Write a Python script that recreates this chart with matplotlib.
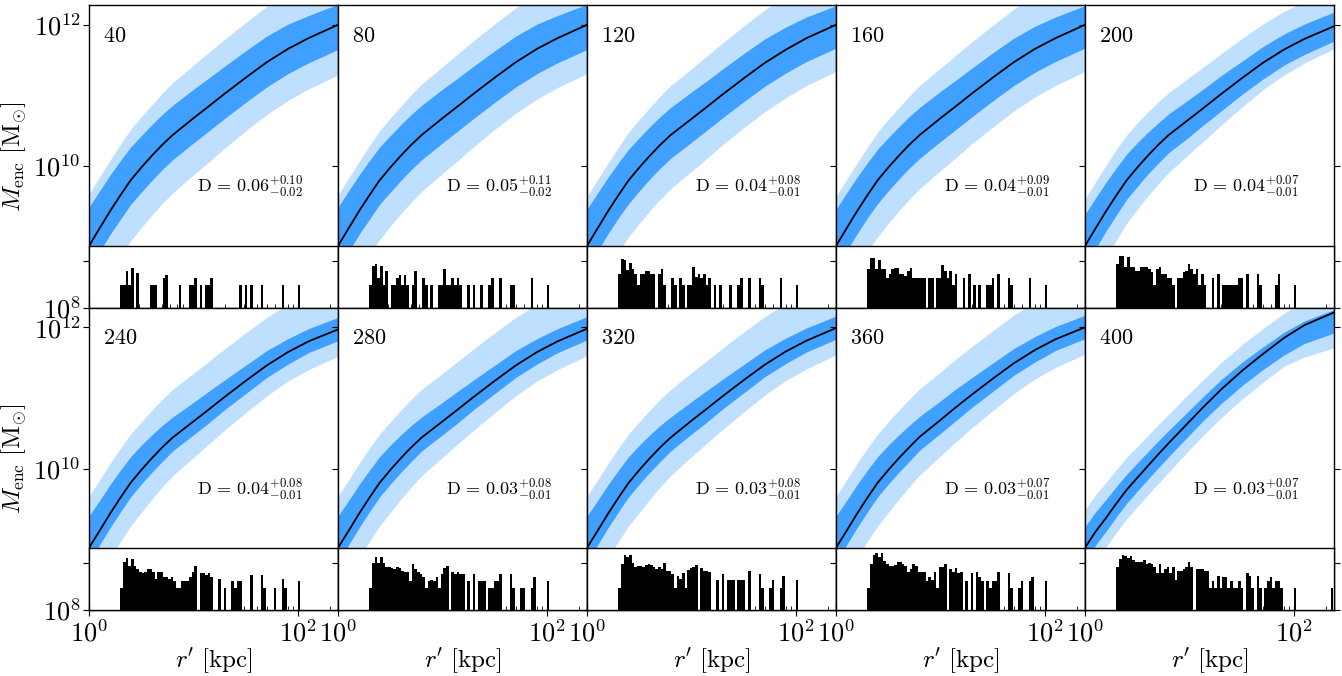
import numpy as np
import matplotlib.pyplot as plt
from matplotlib.ticker import NullLocator

plt.rcParams['mathtext.fontset'] = 'cm'
plt.rcParams['font.family'] = ['DejaVu Serif']

# snapshot labels and the quoted D statistic for each panel
snapshots = [40, 80, 120, 160, 200, 240, 280, 320, 360, 400]
d_med = [0.06, 0.05, 0.04, 0.04, 0.04, 0.04, 0.03, 0.03, 0.03, 0.03]
d_plus = [0.10, 0.11, 0.08, 0.09, 0.07, 0.08, 0.08, 0.08, 0.07, 0.07]
d_minus = [0.02, 0.02, 0.01, 0.01, 0.01, 0.01, 0.01, 0.01, 0.01, 0.01]

# radii (kpc) at which the enclosed-mass profiles are sampled
r_kpc = [1, 1.25, 1.6, 2, 2.5, 3.2, 4, 5, 6.3, 10, 13.5, 20, 32, 50, 80, 125, 240]

# median log10 M_enc per snapshot
logm_med = [
    [8.87, 9.11, 9.37, 9.59, 9.80, 9.99, 10.15, 10.30, 10.44, 10.68, 10.83, 11.03, 11.26, 11.47, 11.66, 11.81, 12.00],
    [8.87, 9.11, 9.37, 9.59, 9.80, 9.99, 10.15, 10.30, 10.44, 10.68, 10.83, 11.03, 11.26, 11.47, 11.66, 11.81, 12.00],
    [8.87, 9.11, 9.37, 9.59, 9.80, 9.99, 10.15, 10.30, 10.44, 10.67, 10.82, 11.02, 11.25, 11.46, 11.65, 11.81, 12.00],
    [8.87, 9.11, 9.37, 9.59, 9.80, 9.99, 10.15, 10.30, 10.44, 10.68, 10.83, 11.03, 11.26, 11.47, 11.66, 11.81, 12.00],
    [8.87, 9.11, 9.37, 9.59, 9.80, 9.99, 10.15, 10.30, 10.44, 10.67, 10.82, 11.02, 11.25, 11.46, 11.65, 11.80, 11.98],
    [8.88, 9.11, 9.37, 9.59, 9.80, 9.99, 10.15, 10.30, 10.44, 10.67, 10.82, 11.02, 11.25, 11.46, 11.65, 11.80, 11.97],
    [8.88, 9.11, 9.37, 9.59, 9.80, 9.99, 10.15, 10.30, 10.44, 10.67, 10.82, 11.02, 11.25, 11.46, 11.65, 11.80, 11.98],
    [8.88, 9.11, 9.37, 9.59, 9.80, 9.99, 10.15, 10.30, 10.44, 10.68, 10.83, 11.03, 11.26, 11.47, 11.66, 11.81, 11.99],
    [8.88, 9.11, 9.37, 9.59, 9.80, 9.99, 10.15, 10.30, 10.45, 10.69, 10.85, 11.05, 11.28, 11.49, 11.68, 11.83, 12.00],
    [8.88, 9.10, 9.31, 9.51, 9.70, 9.88, 10.04, 10.20, 10.36, 10.67, 10.87, 11.12, 11.39, 11.62, 11.85, 12.03, 12.21],
]

# widths (dex) of the 68% and 95% envelopes above / below the median
dex_hi1 = [
    [0.55, 0.53, 0.51, 0.49, 0.47, 0.45, 0.44, 0.43, 0.42, 0.41, 0.40, 0.39, 0.38, 0.37, 0.35, 0.32, 0.29],
    [0.55, 0.53, 0.51, 0.49, 0.47, 0.45, 0.44, 0.43, 0.42, 0.41, 0.40, 0.39, 0.38, 0.37, 0.35, 0.32, 0.29],
    [0.52, 0.50, 0.48, 0.46, 0.44, 0.42, 0.41, 0.40, 0.39, 0.38, 0.37, 0.36, 0.35, 0.34, 0.32, 0.30, 0.27],
    [0.52, 0.50, 0.48, 0.46, 0.44, 0.42, 0.41, 0.40, 0.39, 0.38, 0.37, 0.36, 0.35, 0.34, 0.32, 0.30, 0.27],
    [0.45, 0.43, 0.41, 0.39, 0.37, 0.35, 0.33, 0.31, 0.30, 0.28, 0.27, 0.26, 0.24, 0.23, 0.22, 0.21, 0.20],
    [0.45, 0.43, 0.41, 0.39, 0.37, 0.35, 0.33, 0.31, 0.29, 0.27, 0.26, 0.24, 0.22, 0.21, 0.19, 0.18, 0.17],
    [0.45, 0.43, 0.41, 0.39, 0.37, 0.35, 0.33, 0.31, 0.29, 0.27, 0.26, 0.24, 0.22, 0.21, 0.19, 0.18, 0.17],
    [0.45, 0.43, 0.41, 0.39, 0.37, 0.35, 0.33, 0.31, 0.29, 0.27, 0.26, 0.24, 0.22, 0.21, 0.19, 0.18, 0.17],
    [0.45, 0.43, 0.41, 0.39, 0.37, 0.35, 0.33, 0.31, 0.29, 0.27, 0.26, 0.24, 0.22, 0.21, 0.19, 0.18, 0.17],
    [0.30, 0.28, 0.26, 0.24, 0.22, 0.21, 0.20, 0.19, 0.18, 0.16, 0.15, 0.14, 0.12, 0.10, 0.08, 0.06, 0.04],
]
dex_lo1 = [
    [0.33, 0.33, 0.33, 0.34, 0.34, 0.35, 0.35, 0.35, 0.35, 0.35, 0.35, 0.35, 0.35, 0.35, 0.35, 0.35, 0.35],
    [0.33, 0.33, 0.33, 0.34, 0.34, 0.35, 0.35, 0.35, 0.35, 0.35, 0.35, 0.35, 0.35, 0.35, 0.35, 0.35, 0.35],
    [0.32, 0.32, 0.32, 0.32, 0.33, 0.33, 0.33, 0.33, 0.33, 0.33, 0.33, 0.33, 0.33, 0.33, 0.33, 0.33, 0.33],
    [0.32, 0.32, 0.32, 0.32, 0.33, 0.33, 0.33, 0.33, 0.33, 0.33, 0.33, 0.33, 0.33, 0.33, 0.33, 0.33, 0.33],
    [0.29, 0.29, 0.28, 0.28, 0.27, 0.27, 0.26, 0.26, 0.25, 0.25, 0.24, 0.24, 0.23, 0.23, 0.22, 0.22, 0.21],
    [0.20, 0.20, 0.20, 0.20, 0.20, 0.20, 0.20, 0.20, 0.19, 0.19, 0.19, 0.18, 0.18, 0.17, 0.17, 0.16, 0.16],
    [0.20, 0.20, 0.20, 0.20, 0.20, 0.20, 0.20, 0.20, 0.19, 0.19, 0.19, 0.18, 0.18, 0.17, 0.17, 0.16, 0.16],
    [0.20, 0.20, 0.20, 0.20, 0.20, 0.20, 0.20, 0.20, 0.19, 0.19, 0.19, 0.18, 0.18, 0.17, 0.17, 0.16, 0.16],
    [0.20, 0.20, 0.20, 0.20, 0.20, 0.20, 0.20, 0.20, 0.19, 0.19, 0.19, 0.18, 0.18, 0.17, 0.17, 0.16, 0.16],
    [0.19, 0.19, 0.19, 0.19, 0.19, 0.19, 0.19, 0.19, 0.19, 0.19, 0.19, 0.20, 0.21, 0.22, 0.24, 0.26, 0.29],
]
dex_hi2 = [
    [0.74, 0.73, 0.72, 0.72, 0.72, 0.72, 0.72, 0.73, 0.74, 0.75, 0.76, 0.77, 0.78, 0.79, 0.80, 0.80, 0.80],
    [0.72, 0.71, 0.70, 0.70, 0.70, 0.70, 0.70, 0.71, 0.72, 0.73, 0.74, 0.75, 0.76, 0.77, 0.78, 0.78, 0.78],
    [0.70, 0.69, 0.68, 0.68, 0.68, 0.68, 0.68, 0.69, 0.70, 0.71, 0.72, 0.73, 0.74, 0.75, 0.76, 0.76, 0.76],
    [0.70, 0.69, 0.68, 0.68, 0.68, 0.68, 0.68, 0.69, 0.70, 0.71, 0.72, 0.73, 0.74, 0.75, 0.76, 0.76, 0.76],
    [0.66, 0.66, 0.65, 0.65, 0.64, 0.63, 0.62, 0.61, 0.60, 0.59, 0.58, 0.57, 0.56, 0.55, 0.54, 0.53, 0.50],
    [0.73, 0.72, 0.71, 0.70, 0.69, 0.68, 0.68, 0.68, 0.68, 0.68, 0.68, 0.68, 0.68, 0.68, 0.68, 0.68, 0.68],
    [0.73, 0.72, 0.71, 0.70, 0.69, 0.68, 0.68, 0.68, 0.68, 0.68, 0.68, 0.68, 0.68, 0.68, 0.68, 0.68, 0.68],
    [0.73, 0.72, 0.71, 0.70, 0.69, 0.68, 0.68, 0.68, 0.68, 0.68, 0.68, 0.68, 0.68, 0.68, 0.68, 0.68, 0.68],
    [0.73, 0.72, 0.71, 0.70, 0.69, 0.68, 0.68, 0.68, 0.68, 0.68, 0.68, 0.68, 0.68, 0.68, 0.68, 0.68, 0.68],
    [0.54, 0.52, 0.50, 0.48, 0.46, 0.44, 0.43, 0.42, 0.41, 0.40, 0.39, 0.38, 0.37, 0.36, 0.35, 0.33, 0.30],
]
dex_lo2 = [
    [0.86, 0.86, 0.86, 0.86, 0.86, 0.85, 0.84, 0.83, 0.82, 0.80, 0.79, 0.77, 0.75, 0.74, 0.73, 0.72, 0.71],
    [0.84, 0.84, 0.84, 0.84, 0.84, 0.83, 0.82, 0.81, 0.80, 0.78, 0.77, 0.75, 0.73, 0.72, 0.71, 0.70, 0.69],
    [0.80, 0.80, 0.80, 0.80, 0.80, 0.79, 0.78, 0.77, 0.76, 0.74, 0.73, 0.71, 0.70, 0.69, 0.68, 0.67, 0.66],
    [0.80, 0.80, 0.80, 0.80, 0.80, 0.79, 0.78, 0.77, 0.76, 0.74, 0.73, 0.71, 0.70, 0.69, 0.68, 0.67, 0.66],
    [0.64, 0.64, 0.64, 0.63, 0.61, 0.59, 0.57, 0.55, 0.53, 0.49, 0.47, 0.44, 0.41, 0.38, 0.36, 0.34, 0.32],
    [0.62, 0.62, 0.62, 0.62, 0.61, 0.60, 0.58, 0.56, 0.54, 0.51, 0.49, 0.47, 0.45, 0.43, 0.41, 0.40, 0.38],
    [0.62, 0.62, 0.62, 0.62, 0.61, 0.60, 0.58, 0.56, 0.54, 0.51, 0.49, 0.47, 0.45, 0.43, 0.41, 0.40, 0.38],
    [0.62, 0.62, 0.62, 0.62, 0.61, 0.60, 0.58, 0.56, 0.54, 0.51, 0.49, 0.47, 0.45, 0.43, 0.41, 0.40, 0.38],
    [0.62, 0.62, 0.62, 0.62, 0.61, 0.60, 0.58, 0.56, 0.54, 0.51, 0.49, 0.47, 0.45, 0.43, 0.41, 0.40, 0.38],
    [0.41, 0.41, 0.41, 0.41, 0.41, 0.41, 0.41, 0.41, 0.41, 0.40, 0.40, 0.40, 0.40, 0.40, 0.40, 0.45, 0.50],
]

# tracer counts per log-spaced radial bin (83 bins from 2 to 250 kpc)
hist_counts = [
    [3, 3, 6, 3, 7, 0, 5.5, 0, 0, 0, 0, 3, 3, 3, 0, 0, 4.3, 5, 0, 0,
     0, 0, 3, 0, 0, 0, 3, 3, 4.3, 0, 3, 0, 3, 3, 4.3, 0, 0, 0, 0, 0,
     0, 0, 0, 0, 0, 3, 0, 3, 0, 3, 0, 0, 0, 3, 0, 0, 0, 0, 0, 0,
     0, 3, 0, 0, 0, 0, 0, 3, 0, 0, 0, 0, 0, 0, 0, 0, 0, 0, 0, 0,
     0, 0, 0],
    [3, 7.7, 8.5, 4.3, 7.7, 3, 6, 0, 3, 3, 4.3, 5, 3, 5, 3, 0, 3, 6, 0, 0,
     4.3, 3, 0, 3, 0, 0, 3, 3, 6.6, 3, 3, 4.3, 3, 4.3, 3, 0, 0, 3, 0, 3,
     0, 0, 3, 0, 0, 3, 4.3, 0, 0, 4.3, 0, 0, 0, 3, 3, 0, 0, 0, 0, 0,
     0, 4.3, 0, 0, 0, 0, 0, 3, 0, 0, 0, 0, 0, 0, 0, 0, 0, 0, 0, 0,
     0, 0, 0],
    [5.1, 10.7, 10.2, 6.2, 8.7, 6.6, 5.1, 3, 5.1, 5.1, 5.9, 5.9, 5.1, 5.1, 0, 5.1, 6.6, 3, 0, 0,
     4.2, 3, 0, 4.2, 3, 0, 3, 3, 7.4, 4.4, 5.1, 4.2, 5.1, 3, 4.2, 0, 3, 0, 3, 0,
     0, 0, 3, 0, 0, 3, 4.2, 0, 0, 4.2, 0, 0, 0, 4.2, 3, 0, 0, 0, 0, 0,
     0, 4.2, 0, 0, 0, 0, 0, 3, 0, 0, 0, 0, 0, 0, 0, 0, 0, 0, 0, 0,
     0, 0, 0],
    [6.6, 11.2, 11.2, 6.6, 10.2, 6.6, 6.6, 4.2, 5.3, 6.6, 7.1, 7.1, 5.1, 5.1, 4.6, 5.9, 7.1, 4.2, 4.2, 4.2,
     4.2, 4.2, 0, 4.2, 4.2, 0, 4.2, 4.2, 8.1, 6.0, 4.2, 6.0, 3, 5.1, 0, 0, 4.2, 0, 5.1, 0,
     3, 0, 3, 0, 0, 3, 3, 4.2, 0, 5.1, 0, 0, 0, 4.2, 3, 0, 0, 0, 0, 0,
     0, 4.2, 0, 0, 0, 0, 0, 3, 0, 0, 0, 0, 0, 0, 0, 0, 0, 0, 0, 0,
     0, 0, 0],
    [8.5, 12.6, 12.6, 7.4, 11.9, 7.4, 7.4, 6.1, 6.1, 7.4, 7.4, 7.4, 6.6, 5.6, 3, 6.6, 7.4, 5.1, 5.1, 4.2,
     4.2, 3, 0, 4.2, 4.2, 5.6, 6.1, 8.5, 6.6, 5.1, 6.6, 3, 5.1, 3, 0, 0, 4.2, 0, 5.1, 0,
     3, 3, 3, 3, 3, 3, 4.2, 4.2, 0, 5.1, 0, 0, 0, 5.1, 3, 0, 0, 0, 0, 0,
     3, 5.1, 0, 0, 0, 0, 0, 3, 0, 0, 0, 0, 0, 0, 0, 0, 0, 0, 0, 0,
     0, 0, 0],
    [3, 10.4, 12.7, 8.8, 12, 8.5, 7.4, 6.6, 6.1, 6.6, 7.4, 7.4, 6.6, 4.6, 6.6, 6.6, 5.1, 5.1, 4.6, 5.1,
     4.2, 3, 3, 4.2, 4.2, 4.2, 5.1, 6.6, 8.5, 0, 6.1, 6.1, 5.6, 6.1, 5.1, 0, 0, 4.6, 0, 3,
     0, 0, 4.2, 3, 4.2, 4.2, 0, 0, 0, 5.6, 0, 0, 0, 5.6, 3, 0, 0, 0, 3, 0,
     0, 4.6, 3, 0, 0, 0, 0, 4.2, 0, 0, 0, 0, 0, 0, 0, 0, 0, 0, 0, 0,
     0, 0, 0],
    [3, 10, 13.5, 10, 13.5, 10, 8.3, 8.3, 8, 7.4, 8.3, 8, 6.9, 6.6, 6.6, 4.2, 9.7, 7.4, 6.6, 6,
     5.1, 3, 4.2, 4.4, 4.2, 5.1, 3, 6, 8, 8.7, 0, 6.6, 6, 6.6, 6, 6, 0, 4.2, 0, 6,
     0, 4.2, 4.2, 4.2, 0, 3, 3, 4.2, 4.2, 6, 0, 0, 0, 6, 3, 0, 0, 3, 3, 0,
     0, 3, 5.1, 0, 0, 0, 0, 4.2, 0, 0, 0, 0, 0, 0, 0, 0, 0, 0, 0, 0,
     0, 0, 0],
    [3, 9.7, 14.9, 13.5, 14.9, 10.1, 8.4, 8.7, 8.7, 8.4, 9.1, 9.7, 9.1, 8.4, 7.4, 8.4, 7.4, 10.1, 6.9, 6.9,
     6, 3, 5.3, 4.5, 6.2, 3, 7.1, 7.7, 8.4, 9.1, 0, 7.7, 6.9, 6.9, 6.5, 0, 0, 4.4, 0, 6,
     0, 4.4, 4.4, 4.4, 0, 4.4, 4.4, 4.4, 0, 6.8, 0, 0, 0, 6, 3, 0, 0, 3, 4.4, 0,
     0, 3, 5.3, 0, 0, 0, 0, 4.4, 0, 0, 0, 0, 0, 0, 0, 0, 0, 0, 0, 0,
     0, 0, 0],
    [3, 9.8, 14.9, 16.2, 13.5, 16.2, 11.2, 9.5, 8.5, 8.5, 9.1, 10.7, 10.7, 9.8, 8.5, 6.6, 7.4, 9.8, 8.5, 6.6,
     6.6, 6.6, 4.2, 5.1, 4.4, 6.6, 3, 8.1, 8.1, 9.8, 0, 7.4, 6.6, 7.7, 6.1, 6.6, 0, 4.2, 0, 6.1,
     0, 6.6, 5.1, 4.2, 0, 4.2, 3, 4.2, 4.2, 6.6, 0, 0, 0, 6.1, 3, 0, 0, 3, 4.2, 0,
     0, 4.2, 5.1, 0, 0, 0, 0, 4.2, 0, 0, 0, 0, 0, 0, 0, 0, 0, 0, 0, 0,
     0, 0, 0],
    [8.1, 12.2, 15.1, 13.9, 13, 14.4, 11.6, 10.4, 10.4, 10.7, 11.6, 9.6, 9.9, 9.6, 8.1, 6.3, 9.6, 6.3, 7.5, 8.1,
     6.3, 8.1, 4.4, 6.9, 6.9, 7.5, 8.1, 10.4, 8.1, 0, 7.5, 7.5, 7.5, 6.9, 6.9, 3, 4.2, 3, 5.4, 3,
     5, 5, 3, 4.2, 3, 3, 4.2, 3, 0, 6.3, 5.4, 3, 0, 5.4, 3, 0, 3, 4.2, 5.1, 3,
     4.2, 4.2, 3, 0, 0, 0, 0, 3, 0, 0, 0, 0, 0, 0, 0, 0, 0, 0, 0, 0,
     0, 3, 0],
]

bin_edges = np.logspace(np.log10(2), np.log10(250), 84)

light_blue = '#bfdfff'
dark_blue = '#40a0ff'

W, H = 1342, 676
left_px, col_px = 89, 249
row_top_px = [5, 307.5]
cell_px, hist_px = 302.5, 62

fig = plt.figure(figsize=(W / 100, H / 100), dpi=100)
r = np.array(r_kpc, dtype=float)

for k, snap in enumerate(snapshots):
    row, col = divmod(k, 5)
    x0 = (left_px + col * col_px) / W
    y0 = 1 - (row_top_px[row] + cell_px) / H

    med = np.array(logm_med[k])
    hi1, lo1 = med + np.array(dex_hi1[k]), med - np.array(dex_lo1[k])
    hi2, lo2 = med + np.array(dex_hi2[k]), med - np.array(dex_lo2[k])

    # main enclosed-mass panel (its lower part sits beneath the histogram)
    ax = fig.add_axes([x0, y0, col_px / W, cell_px / H])
    ax.fill_between(r, 10 ** lo2, 10 ** hi2, color=light_blue, lw=0)
    ax.fill_between(r, 10 ** lo1, 10 ** hi1, color=dark_blue, lw=0)
    ax.plot(r, 10 ** med, color='k', lw=1.3)
    ax.set_xscale('log')
    ax.set_yscale('log')
    ax.set_xlim(1, 240)
    ax.set_ylim(1e8, 10 ** 12.28)
    ax.set_yticks([1e8, 1e10, 1e12], labels=[r'$10^{8}$', r'$10^{10}$', r'$10^{12}$'])
    ax.yaxis.set_minor_locator(NullLocator())
    ax.tick_params(axis='y', which='major', left=True, right=True, direction='out',
                   length=4, width=0.8, labelsize=19, labelleft=(col == 0), pad=2)
    ax.tick_params(axis='x', which='both', bottom=False, top=False, labelbottom=False)
    for sp in ax.spines.values():
        sp.set_linewidth(1.0)

    ax.text(0.055, 0.935, r'$%d$' % snap, transform=ax.transAxes,
            fontsize=16, ha='left', va='top')
    ax.text(0.86, 0.40,
            r'$\mathrm{D}\,=\,%.2f^{+%.2f}_{-%.2f}$' % (d_med[k], d_plus[k], d_minus[k]),
            transform=ax.transAxes, fontsize=13, ha='right', va='center')
    if col == 0:
        ax.set_ylabel(r'$M_{\rm enc}\ [\mathrm{M}_{\odot}]$', fontsize=18, labelpad=3)

    # histogram of tracer radii along the bottom strip
    hx = fig.add_axes([x0, y0, col_px / W, hist_px / H])
    hx.set_facecolor('white')
    counts = np.array(hist_counts[k], dtype=float)
    keep = counts > 0
    hx.bar(bin_edges[:-1][keep], counts[keep], width=np.diff(bin_edges)[keep],
           align='edge', color='k', lw=0)
    hx.set_xscale('log')
    hx.set_yscale('log')
    hx.set_xlim(1, 240)
    hx.set_ylim(1, 21)
    hx.set_yticks([10], labels=[''])
    hx.yaxis.set_minor_locator(NullLocator())
    hx.tick_params(axis='y', which='major', left=True, right=True, direction='out',
                   length=4, width=0.8)
    hx.set_xticks([1, 100], labels=[r'$10^{0}$', r'$10^{2}$'])
    hx.set_xticks([2, 3, 4, 5, 6, 7, 8, 9, 10, 20, 30, 40, 50, 60, 70, 80, 90, 200],
                  minor=True)
    hx.xaxis.set_minor_formatter(plt.NullFormatter())
    hx.tick_params(axis='x', which='major', direction='inout', length=8, width=0.8,
                   labelsize=19, labelbottom=(row == 1), pad=3)
    hx.tick_params(axis='x', which='minor', direction='in', length=3, width=0.6)
    for sp in hx.spines.values():
        sp.set_linewidth(1.0)
    if row == 1:
        hx.set_xlabel(r"$r'\ [\mathrm{kpc}]$", fontsize=18, labelpad=0)

fig.savefig('out.png', dpi=100)
